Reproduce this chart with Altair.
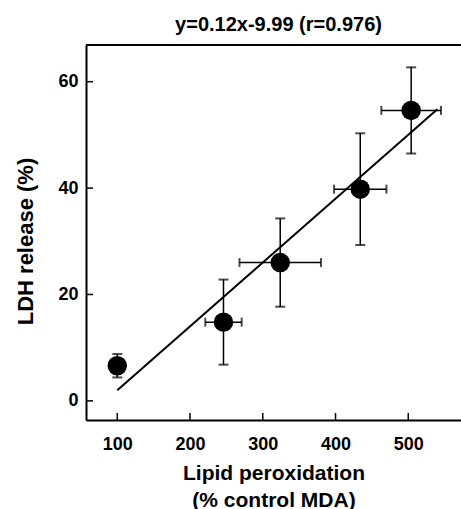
import altair as alt
import pandas as pd

# Values
lipid = [100, 246, 324, 434, 504]          # % control MDA
ldh = [6.6, 14.8, 26.0, 39.8, 54.6]        # LDH release (%)
lipid_err = [0, 25, 56, 36, 41]
ldh_err = [2.2, 8.0, 8.3, 10.5, 8.1]
fit_x = [100, 540]
fit_y = [2.0, 54.8]
x_ticks = [100, 200, 300, 400, 500]
y_ticks = [0, 20, 40, 60]

W, H = 375, 375
FONT = "Liberation Sans"

df = pd.DataFrame({"x": lipid, "y": ldh, "xe": lipid_err, "ye": ldh_err})
df["x_lo"] = df["x"] - df["xe"]
df["x_hi"] = df["x"] + df["xe"]
df["y_lo"] = df["y"] - df["ye"]
df["y_hi"] = df["y"] + df["ye"]
fit = pd.DataFrame({"x": fit_x, "y": fit_y})
xt = pd.DataFrame({"t": x_ticks})
yt = pd.DataFrame({"t": y_ticks})
one = pd.DataFrame({"a": [0]})

xs = alt.Scale(domain=[57, 572.5], nice=False, zero=False)
ys = alt.Scale(domain=[-3.6, 66.9], nice=False, zero=False)

x_axis = alt.Axis(values=x_ticks, title=["Lipid peroxidation", "(% control MDA)"],
                  labelPadding=15, titleY=59, titleBaseline="alphabetic",
                  titleLineHeight=27, titleFontSize=21, titleAlign="center",
                  domain=True, domainColor="black", domainWidth=2, ticks=False, grid=False,
                  labelFont=FONT, labelFontSize=18, labelFontWeight="bold", labelColor="black",
                  titleFont=FONT, titleFontWeight="bold", titleColor="black")
y_axis = alt.Axis(values=y_ticks, title="LDH release (%)", labelPadding=8,
                  titleAngle=270, titleX=-54, titleY=196, titleAlign="center",
                  titleBaseline="alphabetic", titleFontSize=22,
                  domain=True, domainColor="black", domainWidth=2, ticks=False, grid=False,
                  labelFont=FONT, labelFontSize=18, labelFontWeight="bold", labelColor="black",
                  titleFont=FONT, titleFontWeight="bold", titleColor="black")


def X(field):
    return alt.X(field, type="quantitative", scale=xs, axis=x_axis)


def Y(field):
    return alt.Y(field, type="quantitative", scale=ys, axis=y_axis)


base = alt.Chart(df)

vbar = base.mark_rule(color="black", strokeWidth=1.5).encode(
    x=X("x"), y=Y("y_lo"), y2="y_hi")
hbar = base.mark_rule(color="black", strokeWidth=1.5).encode(
    x=X("x_lo"), x2="x_hi", y=Y("y"))
cap_top = base.mark_tick(color="black", orient="horizontal", size=10, thickness=2).encode(
    x=X("x"), y=Y("y_hi"))
cap_bot = base.mark_tick(color="black", orient="horizontal", size=10, thickness=2).encode(
    x=X("x"), y=Y("y_lo"))
cap_l = base.mark_tick(color="black", orient="vertical", size=9, thickness=2).encode(
    x=X("x_lo"), y=Y("y"))
cap_r = base.mark_tick(color="black", orient="vertical", size=9, thickness=2).encode(
    x=X("x_hi"), y=Y("y"))

line = alt.Chart(fit).mark_line(color="black", strokeWidth=2).encode(
    x=X("x"), y=Y("y"))

dots = base.mark_point(filled=True, shape="circle", size=380, color="black", opacity=1).encode(
    x=X("x"), y=Y("y"))

xtick_marks = alt.Chart(xt).mark_rule(color="black", strokeWidth=1.5).encode(
    x=X("t"), y=alt.value(H), y2=alt.value(H - 7))
ytick_marks = alt.Chart(yt).mark_rule(color="black", strokeWidth=1.5).encode(
    y=Y("t"), x=alt.value(0), x2=alt.value(7))
top_border = alt.Chart(one).mark_rule(color="black", strokeWidth=2).encode(
    x=alt.value(0), x2=alt.value(W), y=alt.value(0))

chart = alt.layer(
    vbar, hbar, cap_top, cap_bot, cap_l, cap_r, line, dots,
    xtick_marks, ytick_marks, top_border
).properties(
    width=W, height=H,
    background="white",
    autosize=alt.AutoSizeParams(type="none"),
    padding={"left": 86, "top": 45, "right": 0, "bottom": 89},
    title=alt.TitleParams(text="y=0.12x-9.99 (r=0.976)", font=FONT, fontSize=20,
                          fontWeight="bold", color="black", anchor="middle",
                          frame="group", baseline="alphabetic", offset=12, dx=5, dy=19),
).configure_view(stroke=None)

chart.save("out.html", embed_options={"renderer": "svg", "actions": False})
